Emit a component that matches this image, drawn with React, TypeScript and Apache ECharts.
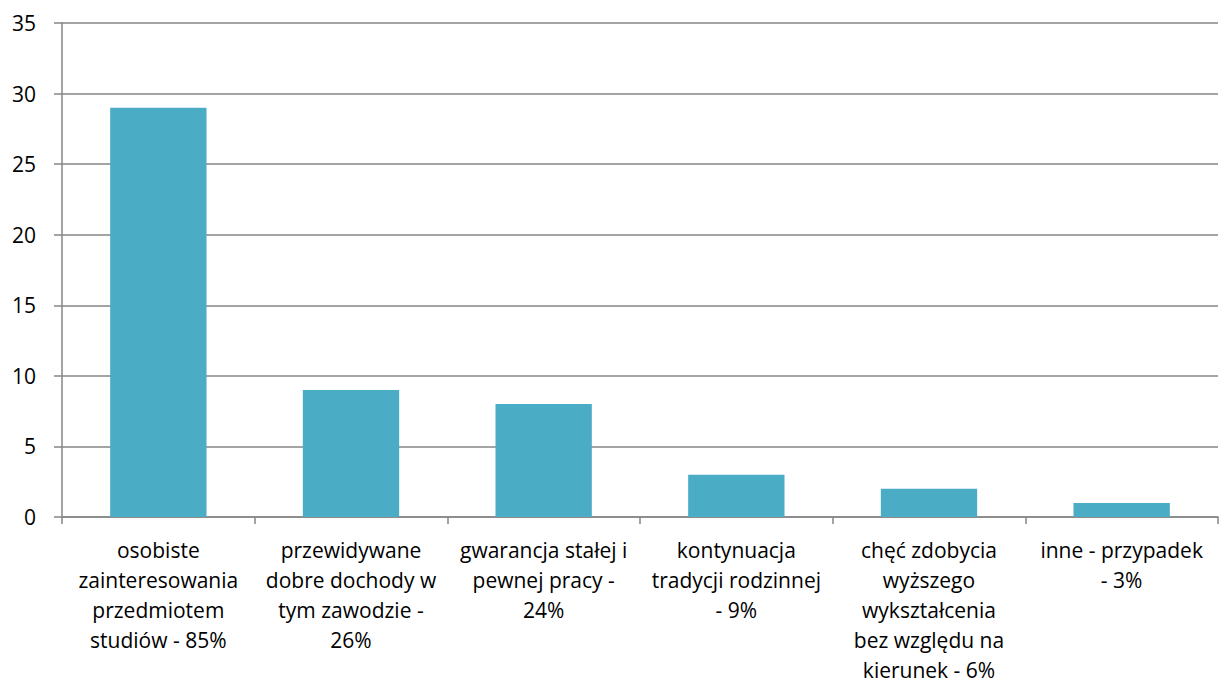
import React, { useEffect, useRef } from "react";
import * as echarts from "echarts";

const categories = [
  "osobiste\nzainteresowania\nprzedmiotem\nstudiów - 85%",
  "przewidywane\ndobre dochody w\ntym zawodzie -\n26%",
  "gwarancja stałej i\npewnej pracy -\n24%",
  "kontynuacja\ntradycji rodzinnej\n- 9%",
  "chęć zdobycia\nwyższego\nwykształcenia\nbez względu na\nkierunek - 6%",
  "inne - przypadek\n- 3%",
];
const values = [29, 9, 8, 3, 2, 1];
const yTicks = { min: 0, max: 35, interval: 5 };

export default function App() {
  const ref = useRef<HTMLDivElement>(null);
  useEffect(() => {
    if (!ref.current) return;
    const chart = echarts.init(ref.current, undefined, { renderer: "svg" });
    const font = "'Open Sans', 'Noto Sans', sans-serif";
    chart.setOption({
      animation: false,
      backgroundColor: "#ffffff",
      grid: { left: 62, right: 9, top: 23, bottom: 177, containLabel: false },
      xAxis: {
        type: "category",
        data: categories,
        axisLine: { show: true, lineStyle: { color: "#868686", width: 1.5 } },
        axisTick: { show: true, length: 7, lineStyle: { color: "#868686", width: 1.5 } },
        axisLabel: {
          interval: 0,
          margin: 18,
          color: "#000",
          fontFamily: font,
          fontSize: 21,
          lineHeight: 30,
          align: "center",
        },
      },
      yAxis: {
        type: "value",
        min: yTicks.min,
        max: yTicks.max,
        interval: yTicks.interval,
        axisLine: { show: true, lineStyle: { color: "#868686", width: 1.5 } },
        axisTick: { show: true, length: 8, lineStyle: { color: "#868686", width: 1.5 } },
        splitLine: { show: true, lineStyle: { color: "#868686", width: 1.5 } },
        axisLabel: {
          margin: 26,
          color: "#000",
          fontFamily: font,
          fontSize: 21,
        },
      },
      series: [
        {
          type: "bar",
          data: values,
          barWidth: "50%",
          itemStyle: { color: "#4BACC6" },
        },
      ],
    });
    return () => chart.dispose();
  }, []);
  return (
    <div
      ref={ref}
      style={{ position: "fixed", left: 0, top: 0, width: 1227, height: 694, background: "#fff" }}
    />
  );
}
